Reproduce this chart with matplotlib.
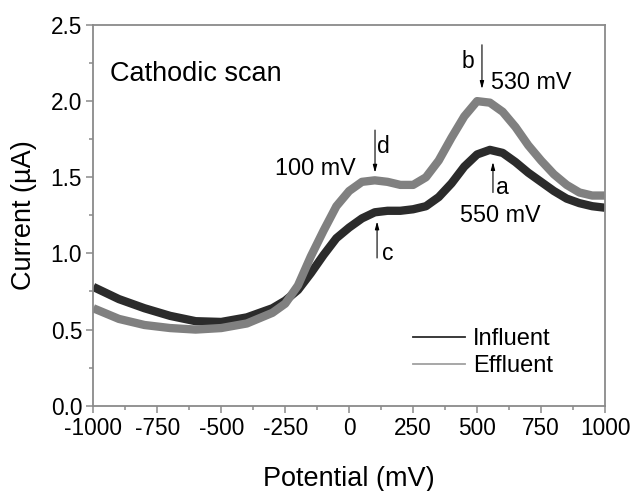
import matplotlib
matplotlib.use("Agg")
import matplotlib.pyplot as plt
from matplotlib.ticker import MultipleLocator
from matplotlib.lines import Line2D

plt.rcParams['font.family'] = ['Liberation Sans', 'DejaVu Sans']

potential = [-1000, -900, -800, -700, -600, -500, -400, -300, -250, -200, -150, -100, -50,
             0, 50, 100, 150, 200, 250, 300, 350, 400, 450, 500, 550, 600, 650, 700, 750,
             800, 850, 900, 950, 1000]
influent = [0.78, 0.70, 0.64, 0.59, 0.555, 0.55, 0.58, 0.64, 0.69, 0.76, 0.87, 0.99, 1.10,
            1.17, 1.23, 1.27, 1.28, 1.28, 1.29, 1.31, 1.37, 1.46, 1.57, 1.65, 1.68, 1.66,
            1.60, 1.53, 1.47, 1.41, 1.36, 1.33, 1.31, 1.30]
effluent = [0.64, 0.57, 0.53, 0.51, 0.50, 0.51, 0.54, 0.61, 0.67, 0.79, 0.98, 1.15, 1.31,
            1.41, 1.47, 1.48, 1.47, 1.45, 1.45, 1.50, 1.61, 1.76, 1.90, 2.00, 1.99, 1.93,
            1.83, 1.71, 1.61, 1.52, 1.45, 1.40, 1.38, 1.38]

series_names = ["Influent", "Effluent"]
x_ticks = [-1000, -750, -500, -250, 0, 250, 500, 750, 1000]
y_ticks = [0.0, 0.5, 1.0, 1.5, 2.0, 2.5]

fig = plt.figure(figsize=(6.34, 4.91), dpi=100)
ax = fig.add_axes([0.1472, 0.1737, 0.8071, 0.7754])

ax.plot(potential, influent, color='#2b2b2b', lw=6, solid_capstyle='butt', solid_joinstyle='round')
ax.plot(potential, effluent, color='#808080', lw=6, solid_capstyle='butt', solid_joinstyle='round')

ax.set_xlim(-1000, 1000)
ax.set_ylim(0, 2.5)
ax.set_xticks(x_ticks)
ax.set_xticklabels([str(t) for t in x_ticks])
ax.set_yticks(y_ticks)
ax.set_yticklabels([f"{t:.1f}" for t in y_ticks])
ax.xaxis.set_minor_locator(MultipleLocator(125))
ax.yaxis.set_minor_locator(MultipleLocator(0.25))
ax.tick_params(axis='both', which='major', direction='out', length=5, color='#8a8a8a',
               labelsize=16.3, width=1.1)
ax.tick_params(axis='x', which='major', pad=3)
ax.tick_params(axis='y', which='major', pad=3)
ax.tick_params(axis='both', which='minor', direction='out', length=3, color='#8a8a8a', width=1.1)
ax.tick_params(top=False, right=False, which='both')
for s in ax.spines.values():
    s.set_color('#8a8a8a')
    s.set_linewidth(1.3)

ax.set_xlabel("Potential (mV)", fontsize=19.5, labelpad=19)
ax.set_ylabel("Current (\u00b5A)", fontsize=19.5, labelpad=10)

ax.text(-934, 2.18, "Cathodic scan", fontsize=19.5, va='center', ha='left')

arrow_kw = dict(arrowstyle='-|>,head_length=0.45,head_width=0.12', color='black', lw=0.8,
                shrinkA=0, shrinkB=0)
# b
ax.annotate("", xy=(519, 2.08), xytext=(519, 2.37), arrowprops=arrow_kw)
ax.text(464, 2.26, "b", fontsize=16.5, ha='center', va='center')
ax.text(555, 2.12, "530 mV", fontsize=16.8, ha='left', va='center')
# d
ax.annotate("", xy=(101, 1.53), xytext=(101, 1.81), arrowprops=arrow_kw)
ax.text(133, 1.70, "d", fontsize=16.5, ha='center', va='center')
ax.text(25, 1.56, "100 mV", fontsize=16.8, ha='right', va='center')
# c
ax.annotate("", xy=(109, 1.21), xytext=(109, 0.97), arrowprops=arrow_kw)
ax.text(152, 1.00, "c", fontsize=16.5, ha='center', va='center')
# a
ax.annotate("", xy=(562, 1.60), xytext=(562, 1.40), arrowprops=arrow_kw)
ax.text(598, 1.43, "a", fontsize=16.5, ha='center', va='center')
ax.text(590, 1.25, "550 mV", fontsize=16.8, ha='center', va='center')

handles = [Line2D([], [], color='#2b2b2b', lw=1.3), Line2D([], [], color='#a0a0a0', lw=1.3)]
ax.legend(handles, series_names, loc='center left', bbox_to_anchor=(0.625, 0.14),
          frameon=False, fontsize=17, handlelength=2.2, handletextpad=0.35,
          labelspacing=0.22, borderpad=0, borderaxespad=0)

fig.savefig("out.png", dpi=100)
